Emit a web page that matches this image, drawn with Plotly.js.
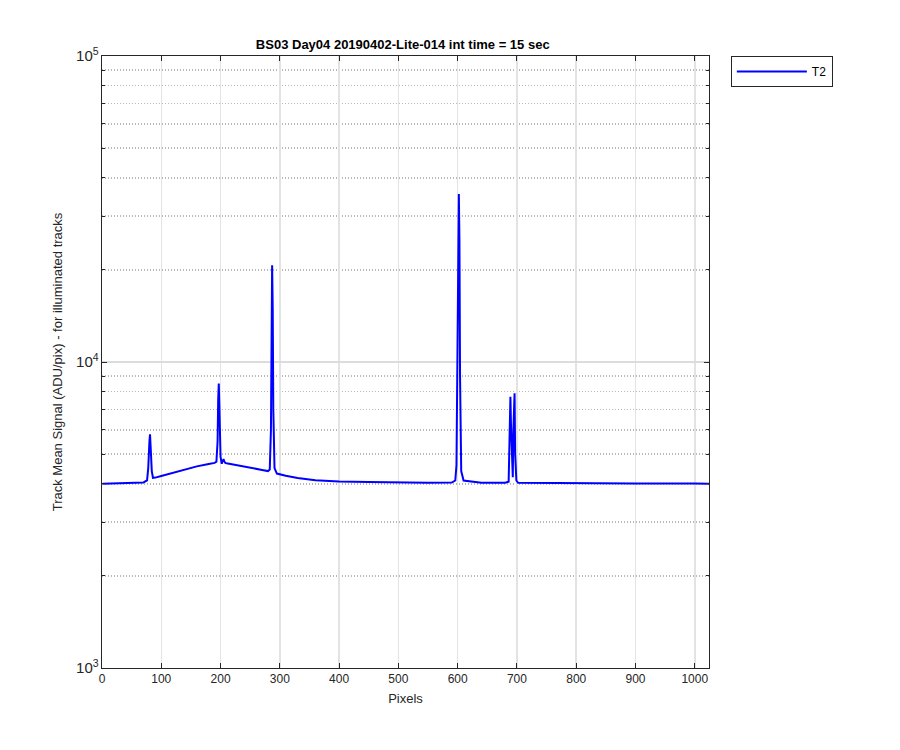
<!DOCTYPE html>
<html>
<head>
<meta charset="utf-8">
<script src="https://cdn.plot.ly/plotly-3.0.1.min.js"></script>
<style>html,body{margin:0;padding:0;background:#fff;}#chart{width:900px;height:750px;}</style>
</head>
<body>
<div id="chart"></div>
<script>
const pixels = [1, 20, 50, 70, 76, 78, 80, 81, 82, 84, 86, 90, 100, 120, 140, 160, 180, 190, 193, 195, 196, 197, 198, 200, 202, 204, 205, 206, 208, 210, 230, 250, 270, 280, 283, 285, 286, 287, 288, 289, 291, 295, 310, 330, 360, 400, 450, 500, 550, 590, 596, 598, 600, 601, 602, 603, 604, 606, 610, 640, 680, 686, 688, 689, 690, 692, 693, 694, 695, 696, 697, 699, 702, 750, 800, 900, 1000, 1024];
const signalT2 = [4000, 4010, 4020, 4040, 4100, 4500, 5500, 5800, 5300, 4400, 4180, 4190, 4240, 4350, 4460, 4560, 4640, 4680, 4720, 5500, 7500, 8500, 7200, 4900, 4650, 4780, 4820, 4750, 4680, 4670, 4600, 4520, 4440, 4400, 4450, 6000, 14000, 20700, 15000, 7000, 4500, 4320, 4250, 4180, 4110, 4070, 4050, 4035, 4030, 4035, 4100, 4600, 12000, 30000, 35400, 25000, 9000, 4400, 4100, 4030, 4030, 4060, 6000, 7700, 6200, 4200, 4200, 6000, 7600, 7900, 5000, 4100, 4030, 4020, 4015, 4010, 4005, 4000];
const xTicks = [0, 100, 200, 300, 400, 500, 600, 700, 800, 900, 1000];
const seriesName = 'T2';
const titleText = 'BS03 Day04 20190402-Lite-014 int time = 15 sec';
const xLabel = 'Pixels';
const yLabel = 'Track Mean Signal (ADU/pix) - for illuminated tracks';

const axisColor = '#262626';
const trace = {
  x: pixels, y: signalT2, type: 'scatter', mode: 'lines', name: seriesName,
  line: {color: '#0000FF', width: 2}
};
const layout = {
  width: 900, height: 750,
  margin: {l: 102, r: 191, t: 56, b: 82},
  paper_bgcolor: '#ffffff', plot_bgcolor: '#ffffff',
  font: {family: 'Liberation Sans, Arial, Helvetica, sans-serif', size: 12, color: axisColor},
  title: {text: '<b>' + titleText + '</b>', x: 0.4475, xanchor: 'center', y: 1 - 44/750, yanchor: 'middle', font: {size: 13, color: '#000'}},
  showlegend: true,
  legend: {x: 1.036, y: 1, xanchor: 'left', yanchor: 'top', bordercolor: axisColor, borderwidth: 1, bgcolor: '#fff', itemwidth: 70, font: {size: 12, color: '#000'}},
  xaxis: {
    range: [0, 1024], tickvals: xTicks, ticktext: xTicks.map(String),
    ticks: 'inside', ticklen: 5, tickcolor: axisColor, showline: true, linecolor: axisColor, linewidth: 1, mirror: 'ticks',
    showgrid: true, gridcolor: '#e3e3e3', gridwidth: 1.5, zeroline: false,
    title: {text: xLabel, standoff: 8, font: {size: 13}}
  },
  yaxis: {
    type: 'log', range: [3, 5], dtick: 1, exponentformat: 'power',
    ticks: 'inside', ticklen: 5, tickcolor: axisColor, showline: true, linecolor: axisColor, linewidth: 1, mirror: 'ticks',
    showgrid: true, gridcolor: '#dcdcdc', gridwidth: 1.5, zeroline: false,
    minor: {dtick: 'D1', showgrid: true, griddash: '1px,2px', gridcolor: '#b8b8b8', gridwidth: 1.5, ticks: 'inside', ticklen: 3, tickcolor: axisColor},
    title: {text: yLabel, standoff: 10, font: {size: 13}}
  }
};
Plotly.newPlot('chart', [trace], layout, {displayModeBar: false, staticPlot: true});
</script>
</body>
</html>
